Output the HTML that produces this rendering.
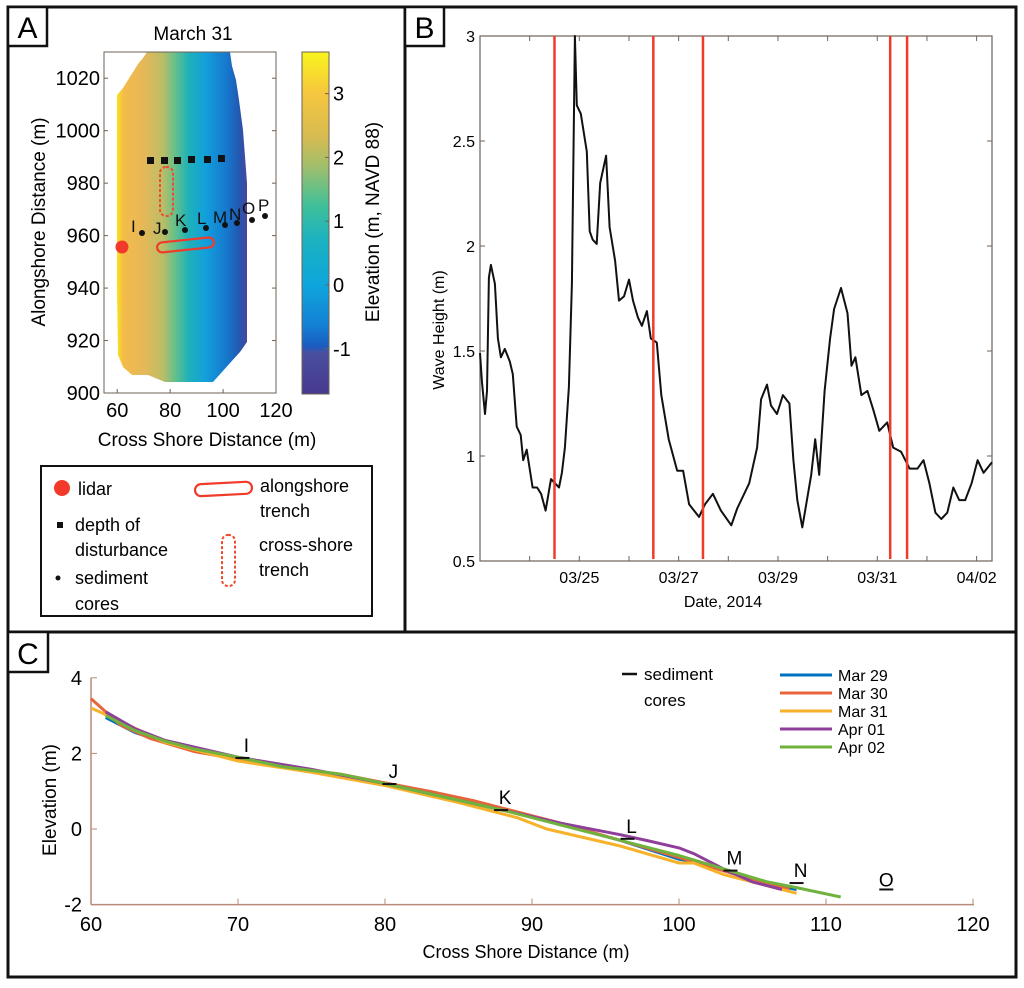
<!DOCTYPE html>
<html><head><meta charset="utf-8"><style>
html,body{margin:0;padding:0;background:#fff;}
svg{display:block;font-family:"Liberation Sans",sans-serif;}
</style></head><body>
<svg id="fig" width="1024" height="988" viewBox="0 0 1024 988">
<defs>
<linearGradient id="beachGrad" gradientUnits="userSpaceOnUse" x1="117" y1="0" x2="247" y2="0">
<stop offset="0" stop-color="#f9e21c"/><stop offset="0.05" stop-color="#f3bb4a"/>
<stop offset="0.2" stop-color="#e7b858"/><stop offset="0.35" stop-color="#bcbd66"/>
<stop offset="0.45" stop-color="#62c08c"/><stop offset="0.55" stop-color="#1fb1b8"/>
<stop offset="0.68" stop-color="#12a0dc"/><stop offset="0.85" stop-color="#1676cc"/>
<stop offset="0.94" stop-color="#2358b0"/><stop offset="1" stop-color="#4a449e"/>
</linearGradient>
<linearGradient id="cbGrad" x1="0" y1="0" x2="0" y2="1">
<stop offset="0" stop-color="#f9f41c"/><stop offset="0.12" stop-color="#f6c63e"/>
<stop offset="0.25" stop-color="#d6bb52"/><stop offset="0.33" stop-color="#a4bf6a"/>
<stop offset="0.45" stop-color="#3fc09a"/><stop offset="0.55" stop-color="#1bb2c0"/>
<stop offset="0.68" stop-color="#0ea6dc"/><stop offset="0.8" stop-color="#1480d4"/>
<stop offset="0.86" stop-color="#1a5cc0"/><stop offset="0.88" stop-color="#4a4f9e"/>
<stop offset="1" stop-color="#46398f"/>
</linearGradient>
</defs>

<!-- Panel borders -->
<rect x="8" y="7" width="397" height="625" fill="none" stroke="#111" stroke-width="3"/>
<rect x="405" y="7" width="611" height="625" fill="none" stroke="#111" stroke-width="3"/>
<rect x="8" y="632" width="1008" height="345" fill="none" stroke="#111" stroke-width="3"/>
<g><rect x="8" y="7" width="39" height="39" fill="#fff" stroke="#111" stroke-width="2.5"/><text x="27.5" y="38" font-size="30" text-anchor="middle">A</text></g>
<g><rect x="405" y="7" width="39" height="39" fill="#fff" stroke="#111" stroke-width="2.5"/><text x="424.5" y="38" font-size="30" text-anchor="middle">B</text></g>
<g><rect x="8" y="632" width="40" height="40" fill="#fff" stroke="#111" stroke-width="2.5"/><text x="28" y="664" font-size="30" text-anchor="middle">C</text></g>

<!-- Panel A -->
<text x="193" y="40" font-size="19" text-anchor="middle">March 31</text>
<polygon fill="url(#beachGrad)" points="147,52 143,58 138,64 133,72 128,80 123,88 117,95 117,290 118,355 123,367 132,375 148,375 165,382 213,382 222,372 230,363 240,352 247,342 247,183 243,130 239,100 236,80 232,66 230,52"/>
<rect x="104" y="52" width="172" height="341" fill="none" stroke="#6e6256" stroke-width="1"/>
<g id="aTicks" font-size="20"></g>
<text x="207" y="446" font-size="19" text-anchor="middle">Cross Shore Distance (m)</text>
<text transform="translate(45,222) rotate(-90)" font-size="19" text-anchor="middle">Alongshore Distance (m)</text>
<g fill="#111">
<rect x="147" y="157" width="7" height="7"/><rect x="161" y="157" width="7" height="7"/><rect x="174" y="157" width="7" height="7"/><rect x="188" y="156" width="7" height="7"/><rect x="204" y="156" width="7" height="7"/><rect x="218" y="155" width="7" height="7"/>
</g>
<rect x="160" y="167" width="13" height="49" rx="6" fill="none" stroke="#f04a30" stroke-width="2" stroke-dasharray="3,2"/>
<rect x="157" y="240" width="57" height="10" rx="5" transform="rotate(-6 185 245)" fill="none" stroke="#f03a2a" stroke-width="2.2"/>
<circle cx="122" cy="247" r="6.5" fill="#f23a2a"/>
<g font-size="17" fill="#111">
<circle cx="142" cy="233" r="3"/><circle cx="165" cy="232" r="3"/><circle cx="185" cy="230" r="3"/><circle cx="206" cy="228" r="3"/><circle cx="225" cy="225" r="3"/><circle cx="237" cy="223" r="3"/><circle cx="252" cy="220" r="3"/><circle cx="265" cy="216" r="3"/>
<text x="131" y="232">I</text><text x="153" y="234">J</text><text x="175" y="226">K</text><text x="197" y="224">L</text><text x="213" y="223">M</text><text x="229" y="220">N</text><text x="242" y="214">O</text><text x="258" y="211">P</text>
</g>
<rect x="302" y="52" width="27" height="342" fill="url(#cbGrad)" stroke="#6e6256" stroke-width="1"/>
<g id="cbTicks" font-size="20"></g>
<text transform="translate(379,222) rotate(-90)" font-size="19" text-anchor="middle">Elevation (m, NAVD 88)</text>

<!-- Panel A legend -->
<g font-size="18">
<rect x="41" y="466" width="331" height="150" fill="#fff" stroke="#111" stroke-width="2"/>
<circle cx="62" cy="488" r="8" fill="#f23a2a"/><text x="78" y="495">lidar</text>
<rect x="57" y="522" width="6" height="6" fill="#111"/><text x="75" y="531">depth of</text><text x="75" y="556">disturbance</text>
<circle cx="58" cy="578" r="2.5" fill="#111"/><text x="75" y="584">sediment</text><text x="75" y="610">cores</text>
<rect x="195" y="483" width="57" height="12" rx="6" transform="rotate(-3 223 489)" fill="none" stroke="#f03a2a" stroke-width="2.2"/>
<text x="260" y="492">alongshore</text><text x="260" y="517">trench</text>
<rect x="222" y="535" width="13" height="51" rx="6" fill="none" stroke="#f04a30" stroke-width="2" stroke-dasharray="3,2"/>
<text x="259" y="551">cross-shore</text><text x="259" y="576">trench</text>
</g>

<!-- Panel B -->
<g id="panelB"></g>
<text transform="translate(444,330) rotate(-90)" font-size="16" text-anchor="middle">Wave Height (m)</text>
<text x="723" y="607" font-size="16" text-anchor="middle">Date, 2014</text>

<!-- Panel C -->
<g id="panelC"></g>
<text transform="translate(56,800) rotate(-90)" font-size="19" text-anchor="middle">Elevation (m)</text>
<text x="526" y="958" font-size="18" text-anchor="middle">Cross Shore Distance (m)</text>
<g font-size="17">
<line x1="622" y1="674" x2="637" y2="674" stroke="#111" stroke-width="2.5"/>
<text x="644" y="680">sediment</text><text x="644" y="706">cores</text>
</g>
<g id="cLegend" font-size="16"></g>

<script>
const NS='http://www.w3.org/2000/svg';
function mk(tag,attrs,parent){const e=document.createElementNS(NS,tag);for(const k in attrs)e.setAttribute(k,attrs[k]);parent.appendChild(e);return e;}

// ---- Panel A axes ----
const aXTicks=[60,80,100,120];
const aYTicks=[900,920,940,960,980,1000,1020];
const cbTicks=[-1,0,1,2,3];
const ax=v=>104+(v-55)*172/65, ay=v=>393-(v-900)*341/130;
const cby=v=>285-v*63.8;
(function(){
 const g=document.getElementById('aTicks');
 aXTicks.forEach(v=>{
  const t=mk('text',{x:ax(v),y:417,'text-anchor':'middle'},g);t.textContent=v;
  
  
  mk('line',{x1:ax(v),x2:ax(v),y1:393,y2:389,stroke:'#6e6256'},g);
 });
 aYTicks.forEach(v=>{
  const t=mk('text',{x:100,y:ay(v)+7,'text-anchor':'end'},g);t.textContent=v;
  
  
  mk('line',{x1:104,x2:108,y1:ay(v),y2:ay(v),stroke:'#6e6256'},g);
  mk('line',{x1:276,x2:272,y1:ay(v),y2:ay(v),stroke:'#6e6256'},g);
 });
 const cg=document.getElementById('cbTicks');
 cbTicks.forEach(v=>{
  const t=mk('text',{x:333,y:cby(v)+7},cg);t.textContent=v;
  
  
  mk('line',{x1:325,x2:329,y1:cby(v),y2:cby(v),stroke:'#6e6256'},cg);
 });
})();

// ---- Panel B data ----
const waveDays=[0,0.04,0.1,0.14,0.18,0.22,0.3,0.36,0.42,0.5,0.6,0.66,0.74,0.82,0.87,0.94,1.06,1.15,1.23,1.32,1.43,1.59,1.65,1.71,1.79,1.85,1.91,1.95,2.03,2.15,2.21,2.27,2.35,2.42,2.54,2.61,2.72,2.8,2.9,3.0,3.08,3.18,3.26,3.36,3.44,3.56,3.65,3.8,3.97,4.09,4.21,4.41,4.53,4.69,4.85,5.06,5.18,5.42,5.58,5.66,5.78,5.86,5.98,6.1,6.23,6.31,6.39,6.49,6.67,6.75,6.83,6.94,7.05,7.13,7.27,7.4,7.48,7.56,7.68,7.8,7.92,8.04,8.2,8.32,8.48,8.65,8.81,8.93,9.05,9.17,9.29,9.41,9.53,9.65,9.77,9.9,10.02,10.14,10.31];
const waveHeights=[1.49,1.35,1.2,1.31,1.85,1.91,1.82,1.56,1.47,1.51,1.45,1.39,1.14,1.1,0.98,1.03,0.85,0.85,0.82,0.74,0.89,0.85,0.92,1.04,1.33,1.82,3.0,2.67,2.63,2.45,2.07,2.03,2.01,2.3,2.43,2.09,1.93,1.74,1.76,1.84,1.74,1.66,1.62,1.69,1.56,1.54,1.29,1.08,0.93,0.93,0.77,0.71,0.77,0.82,0.74,0.67,0.75,0.87,1.04,1.27,1.34,1.24,1.2,1.29,1.25,0.98,0.79,0.66,0.91,1.08,0.91,1.31,1.56,1.7,1.8,1.68,1.43,1.47,1.29,1.31,1.22,1.12,1.16,1.04,1.02,0.94,0.94,0.98,0.87,0.73,0.7,0.73,0.85,0.79,0.79,0.87,0.98,0.92,0.97];
const surveyDays=[1.5,3.49,4.49,8.26,8.6];
const bYTicks=[0.5,1,1.5,2,2.5,3];
const bYTickLabels=['0.5','1','1.5','2','2.5','3'];
const bXTicks=[1,2,3,4,5,6,7,8,9,10];
const bXTickLabels=['','03/25','','03/27','','03/29','','03/31','','04/02'];
const bx=t=>480+t*(512/10.31), by=h=>561-(h-0.5)*525/2.5;
(function(){
 const g=document.getElementById('panelB');
 const box=mk('rect',{x:480,y:36,width:512,height:525,fill:'none',stroke:'#6e6256','stroke-width':1.2},g);
 
 
 bYTicks.forEach((v,i)=>{
  mk('line',{x1:480,x2:485,y1:by(v),y2:by(v),stroke:'#6e6256'},g);
  mk('line',{x1:992,x2:987,y1:by(v),y2:by(v),stroke:'#6e6256'},g);
  const t=mk('text',{x:475,y:by(v)+6,'text-anchor':'end','font-size':16},g);t.textContent=bYTickLabels[i];
  
  
 });
 bXTicks.forEach((v,i)=>{
  mk('line',{x1:bx(v),x2:bx(v),y1:561,y2:556,stroke:'#6e6256'},g);
  mk('line',{x1:bx(v),x2:bx(v),y1:36,y2:41,stroke:'#6e6256'},g);
  if(bXTickLabels[i]){const t=mk('text',{x:bx(v),y:583,'text-anchor':'middle','font-size':16},g);t.textContent=bXTickLabels[i];
  
  }
 });
 let d='';waveDays.forEach((t,i)=>{d+=(i?'L':'M')+bx(t).toFixed(1)+','+by(waveHeights[i]).toFixed(1);});
 const p=mk('path',{d:d,fill:'none',stroke:'#111','stroke-width':2,'stroke-linejoin':'round'},g);
 
 
 surveyDays.forEach(t=>{
  const l=mk('line',{x1:bx(t),x2:bx(t),y1:36,y2:559,stroke:'#f03a2a','stroke-width':2.5},g);
  
  
 });
})();

// ---- Panel C data ----
const cXTicks=[60,70,80,90,100,110,120];
const cYTicks=[-2,0,2,4];
const seriesNames=['Mar 29','Mar 30','Mar 31','Apr 01','Apr 02'];
const seriesColors=['#0072bd','#e8643a','#f6b22a','#8e3f9a','#6fb33e'];
const mar29X=[61,63,65,67,70,73,77,80,84,88,92,96,100,101,103,106,108];
const mar29Y=[2.95,2.55,2.3,2.1,1.88,1.65,1.42,1.17,0.85,0.52,0.12,-0.3,-0.8,-0.85,-1.1,-1.45,-1.6];
const mar30X=[60,62,64,67,70,73,77,80,83,86,88,92,96,100,103,106,107.5];
const mar30Y=[3.45,2.75,2.4,2.05,1.85,1.65,1.45,1.22,1.0,0.75,0.55,0.15,-0.3,-0.75,-1.1,-1.45,-1.6];
const mar31X=[60,62,65,70,75,80,85,89,91,96,100,101,103,106,108];
const mar31Y=[3.2,2.85,2.3,1.8,1.5,1.15,0.7,0.3,0.0,-0.45,-0.9,-0.9,-1.2,-1.5,-1.7];
const apr01X=[61,63,65,70,75,80,84,88,92,96,98,100,101,103,105,107];
const apr01Y=[3.1,2.65,2.35,1.9,1.58,1.2,0.85,0.5,0.15,-0.15,-0.32,-0.5,-0.65,-1.05,-1.4,-1.6];
const apr02X=[61,63,65,67,70,73,77,80,84,88,92,96,100,103,106,108,111];
const apr02Y=[3.0,2.6,2.33,2.12,1.9,1.65,1.45,1.2,0.85,0.5,0.1,-0.3,-0.7,-1.05,-1.4,-1.55,-1.8];
const coreNames=['I','J','K','L','M','N','O'];
const coreX=[70.3,80.3,87.9,96.5,103.5,108,114.1];
const coreY=[1.88,1.19,0.5,-0.26,-1.1,-1.43,-1.6];
const cx=v=>91+(v-60)*14.7, cy=v=>829-v*37.8;
(function(){
 const g=document.getElementById('panelC');
 const ac='#b88a78';
 mk('line',{x1:91,x2:974,y1:cy(-2),y2:cy(-2),stroke:ac,'stroke-width':1.5},g);
 mk('line',{x1:91,x2:91,y1:cy(-2),y2:cy(4),stroke:ac,'stroke-width':1.5},g);
 cXTicks.forEach(v=>{
  mk('line',{x1:cx(v),x2:cx(v),y1:cy(-2),y2:cy(-2)-6,stroke:ac},g);
  const t=mk('text',{x:cx(v),y:931,'text-anchor':'middle','font-size':20},g);t.textContent=v;
  
  
 });
 cYTicks.forEach(v=>{
  mk('line',{x1:91,x2:97,y1:cy(v),y2:cy(v),stroke:ac},g);
  const t=mk('text',{x:82,y:cy(v)+7,'text-anchor':'end','font-size':20},g);t.textContent=v;
  
  
 });
 const xs=[mar29X,mar30X,mar31X,apr01X,apr02X], ys=[mar29Y,mar30Y,mar31Y,apr01Y,apr02Y];
 xs.forEach((X,s)=>{
  let d='';X.forEach((v,i)=>{d+=(i?'L':'M')+cx(v).toFixed(1)+','+cy(ys[s][i]).toFixed(1);});
  const p=mk('path',{d:d,fill:'none',stroke:seriesColors[s],'stroke-width':3,'stroke-linejoin':'round'},g);
  
  
 });
 coreNames.forEach((n,i)=>{
  const l=mk('line',{x1:cx(coreX[i])-7,x2:cx(coreX[i])+7,y1:cy(coreY[i]),y2:cy(coreY[i]),stroke:'#111','stroke-width':2},g);
  
  
  const t=mk('text',{x:cx(coreX[i])+(n==='O'?0:4),y:cy(coreY[i])-(n==='O'?3:6),'text-anchor':'middle','font-size':19},g);t.textContent=n;
  
  
 });
 const lg=document.getElementById('cLegend');
 seriesNames.forEach((n,i)=>{
  const y=675+i*18;
  mk('line',{x1:780,x2:832,y1:y,y2:y,stroke:seriesColors[i],'stroke-width':3},lg);
  const t=mk('text',{x:838,y:y+6},lg);t.textContent=n;
  
  
 });
})();
</script>
</svg>
</body></html>
